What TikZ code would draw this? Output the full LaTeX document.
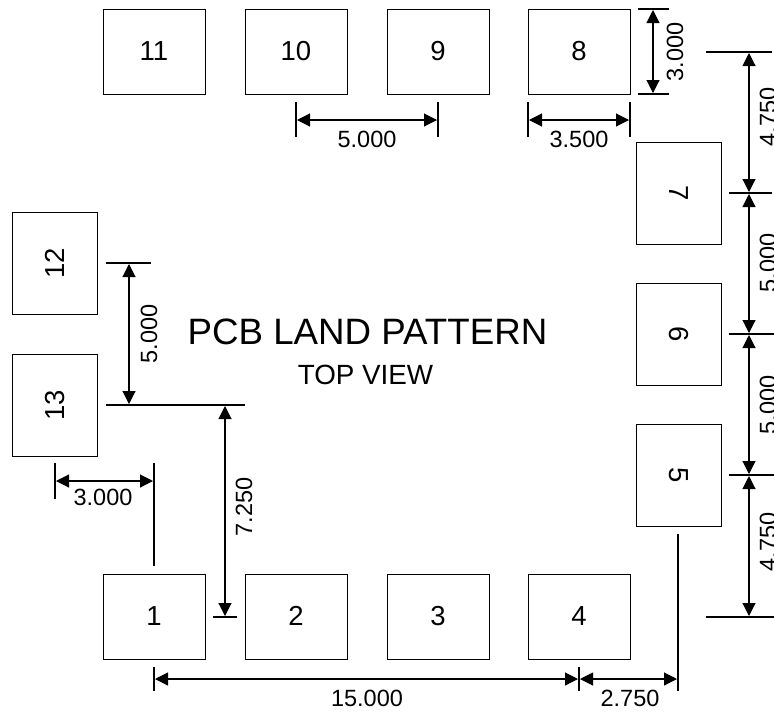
\documentclass[tikz,border=0pt]{standalone}
\usepackage{fontspec}
\setmainfont{Liberation Sans}
\usetikzlibrary{arrows.meta}

\begin{document}
\begin{tikzpicture}
      [x = 1pt, y = -1pt,
      dim/.style={{Triangle[length=13pt,width=13pt]}-{Triangle[length=13pt,width=13pt]}, line width = 1.1pt, shorten <= 1pt, shorten >= 1pt},
      extline/.style={line width = 1.1pt},
      pad/.style= {
         draw,
         inner sep = 0pt,
         outer sep = 0pt,
         line width = 1pt,
         minimum width = 102pt,
         minimum height = 85pt,
         text height = 20pt,
         text depth = 2pt,
         font = \fontsize{27.5}{32}\selectfont
      },
      size/.style= {
         inner sep = 0pt,
         font = \fontsize{23.5}{28}\selectfont
      }]

      \useasboundingbox (0, 0) rectangle (774, 713);

      % pads
      \node[pad] (pad1) at (154, 616.5) {1};
      \node[pad] (pad2) at (296, 616.5) {2};
      \node[pad] (pad3) at (438, 616.5) {3};
      \node[pad] (pad4) at (579, 616.5) {4};
      \node[pad] (pad8) at (579, 51.5) {8};
      \node[pad] (pad9) at (438, 51.5) {9};
      \node[pad] (pad10) at (296, 51.5) {10};
      \node[pad] (pad11) at (154, 51.5) {11};
      \node[pad, rotate = -90] (pad5) at (678.5, 475) {5};
      \node[pad, rotate = -90] (pad6) at (678.5, 334) {6};
      \node[pad, rotate = -90] (pad7) at (678.5, 193) {7};
      \node[pad, rotate = 90] (pad12) at (55, 263) {12};
      \node[pad, rotate = 90] (pad13) at (55, 405) {13};

      \node[inner sep = 0pt, font = \fontsize{36.7}{42}\selectfont] (title) at (367.5, 332) {PCB LAND PATTERN};
      \node[inner sep = 0pt, font = \fontsize{27.8}{32}\selectfont] (subtitle) at (365.5, 375) {TOP VIEW};

      % extension lines
      \foreach \name/\xa/\ya/\xb/\yb in {
         e8t/638/9/669/9, e8b/638/94/669/94,
         e8l/528/102/528/137, e8r/630/102/630/137,
         e10/296/102/296/137, e9/438/102/438/137,
         er1/706/52/772/52, er2/729/193/772/193, er3/729/334/774/334,
         er4/729/475/774/475, er5/706/617/774/617,
         el1/106/263/151/263, el2/106/405/245/405,
         el3/213/617/237/617,
         ev1/55/463/55/499, ev2/154/463/154/566,
         eb1/154/667/154/691, eb2/579/667/579/691, eb3/678/534/678/691} {
         \coordinate (\name a) at (\xa, \ya);
         \coordinate (\name b) at (\xb, \yb);
         \draw[extline] (\name a) -- (\name b);
      }

      % dimensions
      \coordinate (d8a) at (653, 9);
      \coordinate (d8b) at (653, 94);
      \coordinate (w8a) at (528, 120);
      \coordinate (w8b) at (630, 120);
      \coordinate (p9a) at (296, 120);
      \coordinate (p9b) at (438, 120);
      \coordinate (r1) at (749, 52);
      \coordinate (r2) at (749, 193);
      \coordinate (r3) at (749, 334);
      \coordinate (r4) at (749, 475);
      \coordinate (r5) at (749, 617);
      \coordinate (l1) at (129, 263);
      \coordinate (l2) at (129, 405);
      \coordinate (c1) at (225, 405);
      \coordinate (c2) at (225, 617);
      \coordinate (v1) at (55, 481);
      \coordinate (v2) at (154, 481);
      \coordinate (b1) at (154, 679);
      \coordinate (b2) at (579, 679);
      \coordinate (b3) at (678, 679);

      \draw[dim] (d8a) -- (d8b);
      \draw[dim] (w8a) -- (w8b);
      \draw[dim] (p9a) -- (p9b);
      \draw[dim] (r1) -- (r2);
      \draw[dim] (r2) -- (r3);
      \draw[dim] (r3) -- (r4);
      \draw[dim] (r4) -- (r5);
      \draw[dim] (l1) -- (l2);
      \draw[dim] (c1) -- (c2);
      \draw[dim] (v1) -- (v2);
      \draw[dim] (b1) -- (b2);
      \draw[dim] (b2) -- (b3);

      \node[size, rotate = 90] (s8h) at (675, 52) {3.000};
      \node[size] (s8w) at (579, 139) {3.500};
      \node[size] (s9) at (367, 139) {5.000};
      \node[size, rotate = 90] (sr1) at (768, 117) {4.750};
      \node[size, rotate = 90] (sr2) at (768, 263) {5.000};
      \node[size, rotate = 90] (sr3) at (768, 405) {5.000};
      \node[size, rotate = 90] (sr4) at (768, 542) {4.750};
      \node[size, rotate = 90] (sl) at (149, 334) {5.000};
      \node[size, rotate = 90] (sc) at (244, 507) {7.250};
      \node[size] (sv) at (103, 497) {3.000};
      \node[size] (sb1) at (367, 698) {15.000};
      \node[size] (sb2) at (630, 698) {2.750};

   \end{tikzpicture}
\end{document}
